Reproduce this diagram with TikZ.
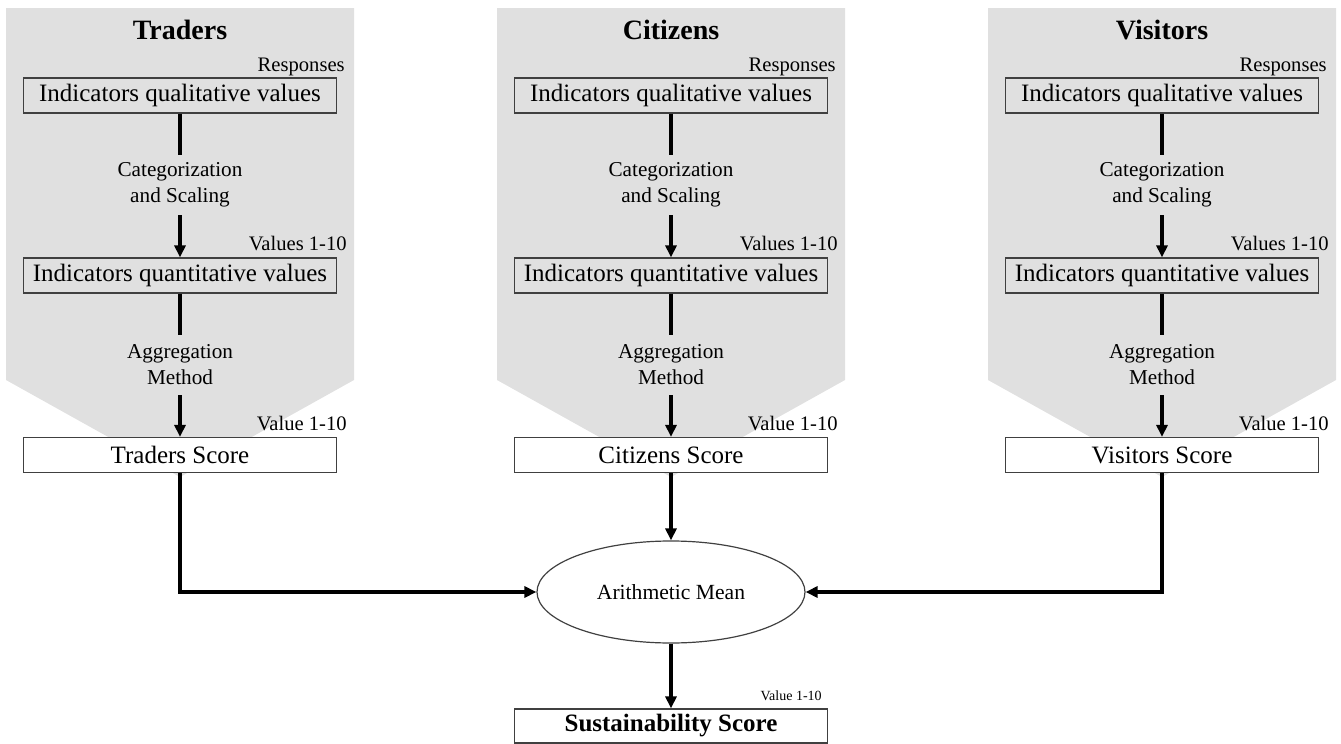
\documentclass[tikz,border=0pt]{standalone}
\usepackage{fontspec}
\setmainfont{Liberation Serif}
\usetikzlibrary{shapes.geometric,arrows.meta}
\begin{document}
\begin{tikzpicture}[x=0.5pt, y=-0.5pt,
   valbox/.style={draw=black!75, line width=0.6pt, minimum width=156.5pt,
     minimum height=17.5pt, inner sep=0pt, font=\fontsize{12.5}{15}\selectfont},
   scorebox/.style={valbox, fill=white},
   steplabel/.style={align=center, minimum height=30pt, inner sep=0pt,
     font=\fontsize{10.6}{13}\selectfont},
   note/.style={anchor=south east, inner sep=0pt, font=\fontsize{10.3}{12}\selectfont},
   link/.style={line width=2.2pt},
   arr/.style={link, -{Triangle[length=6pt, width=5.5pt]}}]
   \useasboundingbox (0,0) rectangle (1341,744);
   % one column per group of respondents
   \foreach \cx/\n/\who in {180/tr/Traders, 671/ci/Citizens, 1162/vi/Visitors} {
     \fill[black!12] (\cx-174,8) -- (\cx+174,8) -- (\cx+174,380) -- (\cx,477)
       -- (\cx-174,380) -- cycle;
     \node[font=\bfseries\fontsize{14}{17}\selectfont] (\n-title) at (\cx,30) {\who};
     \node[valbox] (\n-qual) at (\cx,95.5) {Indicators qualitative values};
     \node[steplabel] (\n-cat) at (\cx,185) {Categorization\\and Scaling};
     \node[valbox] (\n-quant) at (\cx,275.5) {Indicators quantitative values};
     \node[steplabel] (\n-agg) at (\cx,365) {Aggregation\\Method};
     \node[scorebox] (\n-score) at (\cx,455) {\who\ Score};
     \node[note] (\n-resp) at ([xshift=4pt,yshift=0.5pt]\n-qual.north east) {Responses};
     \node[note] (\n-vals) at ([xshift=5pt,yshift=3pt]\n-quant.north east) {Values 1-10};
     \node[note] (\n-val) at ([xshift=5pt,yshift=3pt]\n-score.north east) {Value 1-10};
     \draw[link] (\n-qual) -- (\n-cat);
     \draw[arr] (\n-cat) -- (\n-quant);
     \draw[link] (\n-quant) -- (\n-agg);
     \draw[arr] (\n-agg) -- (\n-score);
   }
   \node[ellipse, draw=black!75, line width=0.6pt, minimum width=134pt,
     minimum height=51pt, inner sep=0pt, font=\fontsize{10.8}{13}\selectfont]
     (mean) at (671,592) {Arithmetic Mean};
   \node[scorebox, minimum height=17pt, font=\bfseries\fontsize{12.5}{15}\selectfont]
     (sus) at (671,726) {Sustainability Score};
   \node[note, font=\fontsize{7}{8}\selectfont] (sus-val)
     at ([xshift=-3pt,yshift=3.5pt]sus.north east) {Value 1-10};
   \draw[arr] (ci-score) -- (mean);
   \draw[arr] (tr-score) |- (mean);
   \draw[arr] (vi-score) |- (mean);
   \draw[arr] (mean) -- (sus);
\end{tikzpicture}
\end{document}
